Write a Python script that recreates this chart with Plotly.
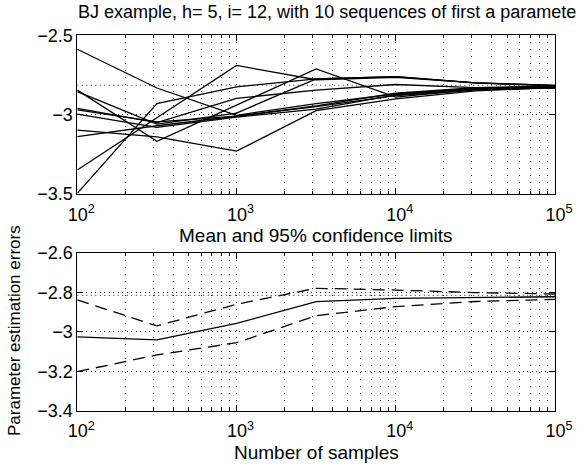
import plotly.graph_objects as go

# ---------------- data ----------------
SAMPLE_SIZES = [100, 316.2, 1000, 3162.3, 10000, 31623, 100000]

SEQ_1 = [-2.588, -2.832, -3.004, -2.930, -2.870, -2.835, -2.825]
SEQ_2 = [-2.845, -3.168, -2.940, -2.712, -2.890, -2.840, -2.830]
SEQ_3 = [-2.855, -3.060, -2.990, -2.775, -2.760, -2.800, -2.815]
SEQ_4 = [-2.960, -3.050, -2.897, -2.845, -2.810, -2.830, -2.835]
SEQ_5 = [-2.970, -3.045, -3.010, -2.950, -2.880, -2.845, -2.830]
SEQ_6 = [-2.996, -3.080, -3.015, -2.965, -2.875, -2.840, -2.825]
SEQ_7 = [-3.097, -3.140, -3.230, -2.975, -2.900, -2.850, -2.830]
SEQ_8 = [-3.139, -3.070, -3.010, -2.945, -2.865, -2.830, -2.820]
SEQ_9 = [-3.349, -3.020, -2.690, -2.780, -2.765, -2.800, -2.815]
SEQ_10 = [-3.496, -2.930, -2.825, -2.775, -2.760, -2.800, -2.820]
SEQUENCES = [SEQ_1, SEQ_2, SEQ_3, SEQ_4, SEQ_5, SEQ_6, SEQ_7, SEQ_8, SEQ_9, SEQ_10]

MEAN = [-3.025, -3.041, -2.957, -2.847, -2.830, -2.826, -2.822]
UPPER = [-2.838, -2.970, -2.860, -2.779, -2.788, -2.801, -2.808]
LOWER = [-3.202, -3.117, -3.055, -2.918, -2.872, -2.846, -2.835]

REF_VALUE = -2.815

X_TICKS = [100, 1000, 10000, 100000]
X_TICK_TEXT = ["10<sup>2</sup>", "10<sup>3</sup>", "10<sup>4</sup>", "10<sup>5</sup>"]
Y1_TICKS = [-3.5, -3, -2.5]
Y1_TICK_TEXT = ["\u22123.5", "\u22123", "\u22122.5"]
Y2_TICKS = [-3.4, -3.2, -3, -2.8, -2.6]
Y2_TICK_TEXT = ["\u22123.4", "\u22123.2", "\u22123", "\u22122.8", "\u22122.6"]

TITLE_TOP = "BJ example, h= 5, i= 12, with 10 sequences of first a paramete"
TITLE_BOTTOM = "Mean and 95% confidence limits"
X_LABEL = "Number of samples"
Y_LABEL = "Parameter estimation errors"

# ---------------- figure ----------------
W, H = 582, 465
FONT = "Liberation Sans, Arial, Helvetica, sans-serif"
FS = 18
FT = 19

def px_x(p):
    return p / W

def px_y(p):
    return 1 - p / H

fig = go.Figure()

for seq in SEQUENCES:
    fig.add_trace(go.Scatter(x=SAMPLE_SIZES, y=seq, mode="lines",
                             line=dict(color="black", width=1.3),
                             xaxis="x", yaxis="y", showlegend=False))

for ax_y in ["y", "y2"]:
    fig.add_trace(go.Scatter(x=[SAMPLE_SIZES[0], SAMPLE_SIZES[-1]], y=[REF_VALUE, REF_VALUE],
                             mode="lines", line=dict(color="#222", width=1, dash="1px,3.5px"),
                             xaxis="x" if ax_y == "y" else "x2", yaxis=ax_y, showlegend=False))

fig.add_trace(go.Scatter(x=SAMPLE_SIZES, y=MEAN, mode="lines",
                         line=dict(color="black", width=1.3),
                         xaxis="x2", yaxis="y2", showlegend=False))
for band in [UPPER, LOWER]:
    fig.add_trace(go.Scatter(x=SAMPLE_SIZES, y=band, mode="lines",
                             line=dict(color="black", width=1.3, dash="12px,7px"),
                             xaxis="x2", yaxis="y2", showlegend=False))

x_dom = [px_x(77.3), px_x(555)]
y1_dom = [px_y(194), px_y(35.3)]
y2_dom = [px_y(410.7), px_y(253)]

def xaxis_cfg(anchor):
    return dict(type="log", range=[2, 5], domain=x_dom, anchor=anchor,
                tickvals=X_TICKS, ticktext=X_TICK_TEXT,
                ticks="inside", ticklen=6, tickcolor="black",
                showline=True, linecolor="black", linewidth=1, mirror="allticks",
                showgrid=True, gridcolor="#222", gridwidth=1, griddash="1px,6px",
                zeroline=False, automargin=False, ticklabelshift=4, ticklabelstandoff=4,
                tickfont=dict(family=FONT, size=FS, color="black"),
                minor=dict(dtick="D1", ticks="inside", ticklen=3, tickcolor="black",
                           showgrid=True, gridcolor="#222", gridwidth=1, griddash="1px,6px"))

def yaxis_cfg(anchor, dom, rng, tv, tt):
    return dict(range=rng, domain=dom, anchor=anchor,
                tickvals=tv, ticktext=tt,
                ticks="inside", ticklen=6, tickcolor="black",
                showline=True, linecolor="black", linewidth=1, mirror="allticks",
                showgrid=True, gridcolor="#222", gridwidth=1, griddash="1px,3.5px",
                zeroline=False, automargin=False,
                tickfont=dict(family=FONT, size=FS, color="black"))

fig.update_layout(
    width=W, height=H,
    margin=dict(l=0, r=0, t=0, b=0),
    paper_bgcolor="white", plot_bgcolor="white",
    font=dict(family=FONT, size=FS, color="black"),
    xaxis=xaxis_cfg("y"),
    yaxis=yaxis_cfg("x", y1_dom, [-3.5, -2.5], Y1_TICKS, Y1_TICK_TEXT),
    xaxis2=xaxis_cfg("y2"),
    yaxis2=yaxis_cfg("x2", y2_dom, [-3.4, -2.6], Y2_TICKS, Y2_TICK_TEXT),
    annotations=[
        dict(text=TITLE_TOP, x=px_x(76), y=px_y(12), xref="paper", yref="paper",
             xanchor="left", yanchor="middle", showarrow=False,
             font=dict(family=FONT, size=18, color="black")),
        dict(text=TITLE_BOTTOM, x=px_x(316), y=px_y(235), xref="paper", yref="paper",
             xanchor="center", yanchor="middle", showarrow=False,
             font=dict(family=FONT, size=FT, color="black")),
        dict(text=X_LABEL, x=px_x(316), y=px_y(452), xref="paper", yref="paper",
             xanchor="center", yanchor="middle", showarrow=False,
             font=dict(family=FONT, size=FT, color="black")),
        dict(text=Y_LABEL, x=px_x(14), y=px_y(331), xref="paper", yref="paper",
             xanchor="center", yanchor="middle", showarrow=False, textangle=-90,
             font=dict(family=FONT, size=17, color="black")),
    ],
)

fig.write_html("out.html", config={"displayModeBar": False},
               post_script="document.body.style.margin='0';document.body.style.overflow='hidden';")
